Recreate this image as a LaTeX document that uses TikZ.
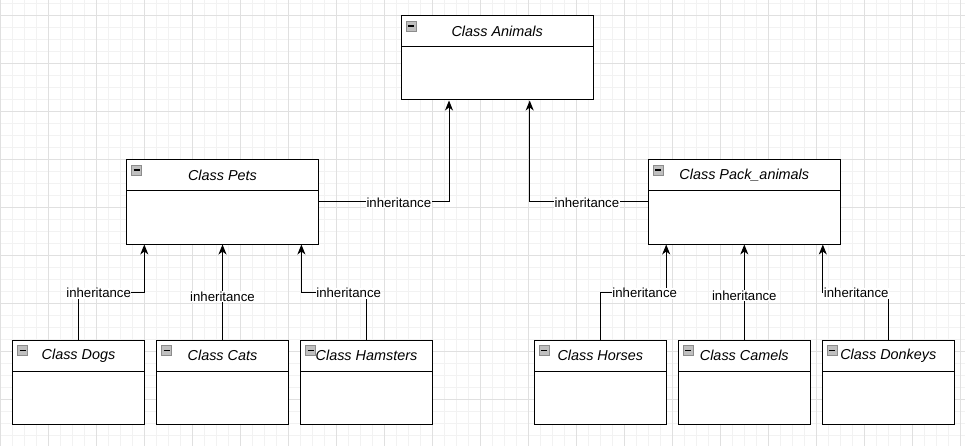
\documentclass[tikz,border=0pt]{standalone}
\usepackage{fontspec}
\setmainfont{Liberation Sans}
\usetikzlibrary{arrows.meta}
\tikzstyle{minorgrid} = [line width=0.8pt, draw=black!5]
\tikzstyle{majorgrid} = [line width=0.8pt, draw=black!12]
\tikzstyle{classbox} = [rectangle, minimum height=84pt, inner sep=0pt, draw=black, line width=1pt, fill=white]
\tikzstyle{parentclass} = [classbox, minimum width=192pt]
\tikzstyle{childclass} = [classbox, minimum width=132pt]
\tikzstyle{classname} = [rectangle, anchor=north, minimum height=31pt, inner sep=0pt, draw=black, line width=1pt, font=\fontsize{14.4}{17}\selectfont\itshape,
  path picture={
    \draw[draw=black!45, fill=black!25, line width=0.8pt] ([shift={(5pt,-5pt)}]path picture bounding box.north west) rectangle ++(10pt,-10pt);
    \draw[black, line width=1.2pt] ([shift={(7pt,-10pt)}]path picture bounding box.north west) -- ++(6pt,0);
  }]
\tikzstyle{arrow} = [line width=1pt, -{Stealth[length=10pt, width=8pt, inset=3pt]}]
\tikzstyle{lbl} = [fill=white, inner sep=0.5pt, yshift=-1pt, font=\fontsize{13.2}{15}\selectfont]

\begin{document}
\begin{tikzpicture}[node distance=144pt]
\useasboundingbox (0,0) rectangle (965pt,-446pt);

% background grid
\foreach \gx in {0,12,...,960} \draw[minorgrid] (\gx pt,0) -- (\gx pt,-446pt);
\foreach \gy in {3.3,15.3,...,443.3} \draw[minorgrid] (0,-\gy pt) -- (965pt,-\gy pt);
\foreach \gx in {0,48,...,960} \draw[majorgrid] (\gx pt,0) -- (\gx pt,-446pt);
\foreach \gy in {15.3,63.3,...,399.3} \draw[majorgrid] (0,-\gy pt) -- (965pt,-\gy pt);

\node (animals) [parentclass] at (497.2pt,-58pt) {};
\node (pets) [parentclass, below of=animals, xshift=-274.7pt] {};
\node (pack) [parentclass, below of=animals, xshift=247.1pt] {};

\node (cats) [childclass, below of=pets, yshift=-36.3pt] {};
\node (dogs) [childclass, left of=cats] {};
\node (hamsters) [childclass, right of=cats] {};
\node (camels) [childclass, below of=pack, yshift=-36.3pt] {};
\node (horses) [childclass, left of=camels] {};
\node (donkeys) [childclass, right of=camels] {};

\node (animalsname) [classname, minimum width=192pt] at (animals.north) {Class Animals};
\node (petsname) [classname, minimum width=192pt] at (pets.north) {Class Pets};
\node (packname) [classname, minimum width=192pt] at (pack.north) {Class Pack\_animals};
\node (dogsname) [classname, minimum width=132pt] at (dogs.north) {Class Dogs};
\node (catsname) [classname, minimum width=132pt] at (cats.north) {Class Cats};
\node (hamstersname) [classname, minimum width=132pt] at (hamsters.north) {Class Hamsters};
\node (horsesname) [classname, minimum width=132pt] at (horses.north) {Class Horses};
\node (camelsname) [classname, minimum width=132pt] at (camels.north) {Class Camels};
\node (donkeysname) [classname, minimum width=132pt] at (donkeys.north) {Class Donkeys};

\draw [arrow] (pets.east) -| ([xshift=48.3pt]animals.south west) node[lbl, pos=0.307] {inheritance};
\draw [arrow] (pack.west) -| ([xshift=-64pt]animals.south east) node[lbl, pos=0.258] {inheritance};

\draw [arrow] (dogs.north) -- ++(0,47.6pt) -| ([xshift=18.3pt]pets.south west) node[lbl, pos=0.153] {inheritance};
\draw [arrow] (cats.north) -- (cats.north |- pets.south) node[lbl, pos=0.465] {inheritance};
\draw [arrow] (hamsters.north) -- ++(0,47.6pt) -| ([xshift=-17.6pt]pets.south east) node[lbl, pos=0.137] {inheritance};

\draw [arrow] (horses.north) -- ++(0,47.6pt) -| ([xshift=18.4pt]pack.south west) node[lbl, pos=0.337] {inheritance};
\draw [arrow] (camels.north) -- (camels.north |- pack.south) node[lbl, pos=0.475] {inheritance};
\draw [arrow] (donkeys.north) -- ++(0,47.6pt) -| ([xshift=-18pt]pack.south east) node[lbl, pos=0.245] {inheritance};

\end{tikzpicture}
\end{document}
